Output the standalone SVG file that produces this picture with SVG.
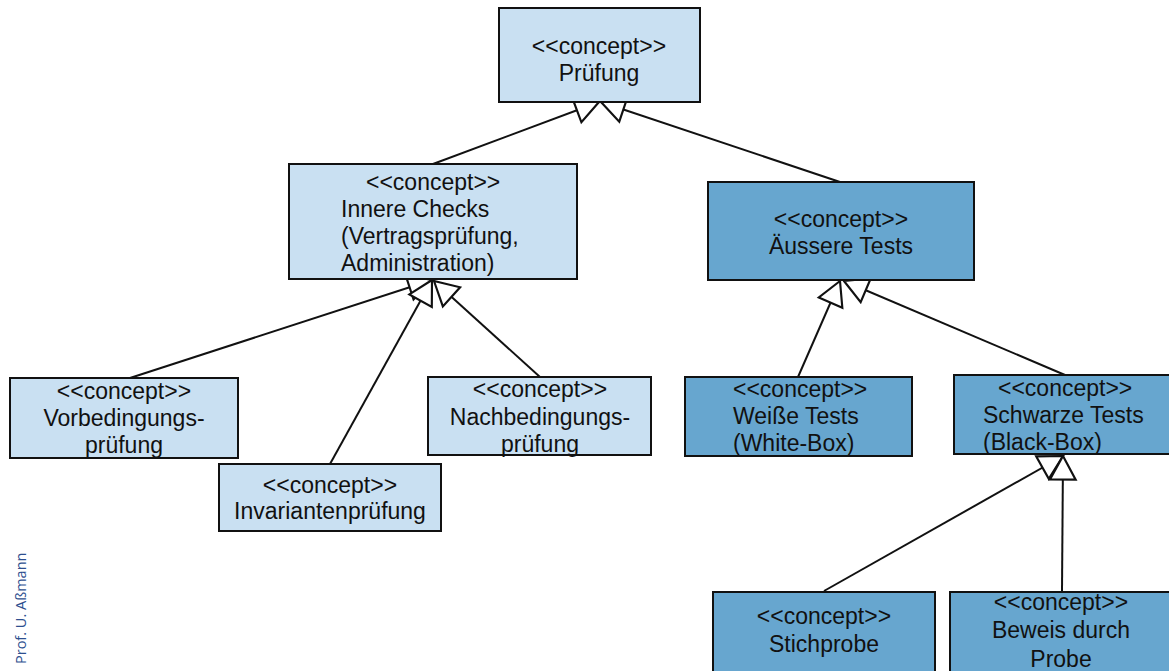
<svg xmlns="http://www.w3.org/2000/svg" width="1169" height="671" viewBox="0 0 1169 671">
<defs>
<style>
.box{stroke:#111;stroke-width:2}
.l{fill:#c9e0f2}
.d{fill:#67a6cf}
text{font-family:"Liberation Sans",Arial,sans-serif;font-size:23px;fill:#111}
.c{text-anchor:middle}
.con{stroke:#111;stroke-width:2;fill:none;marker-end:url(#gen)}
.foot{font-family:"Open Sans","Liberation Sans",sans-serif;font-size:14.5px;fill:#2e4f8f}
</style>
<marker id="gen" markerUnits="userSpaceOnUse" markerWidth="30" markerHeight="30" viewBox="-24 -14 26 28" refX="0" refY="0" orient="auto">
<path d="M0,0 L-22,-12 L-22,12 Z" fill="#fff" stroke="#111" stroke-width="2"/>
</marker>
</defs>
<rect width="1169" height="671" fill="#fff"/>
<g id="connectors">
<line class="con" x1="433" y1="164" x2="599" y2="102"/>
<line class="con" x1="840" y1="182" x2="601" y2="102"/>
<line class="con" x1="130" y1="378" x2="432" y2="280"/>
<line class="con" x1="330" y1="464" x2="432" y2="280"/>
<line class="con" x1="540" y1="377" x2="434" y2="281"/>
<line class="con" x1="798" y1="377" x2="840" y2="281"/>
<line class="con" x1="1065" y1="375" x2="844" y2="281"/>
<line class="con" x1="824" y1="591" x2="1063" y2="456"/>
<line class="con" x1="1062" y1="591" x2="1063" y2="456"/>
</g>
<g id="pruefung">
<rect class="box l" x="499" y="8" width="201" height="94"/>
<text class="c" x="599" y="54">&lt;&lt;concept&gt;&gt;</text>
<text class="c" x="599" y="81">Prüfung</text>
</g>
<g id="innere">
<rect class="box l" x="289" y="164" width="288" height="115"/>
<text x="366" y="190">&lt;&lt;concept&gt;&gt;</text>
<text x="341" y="217">Innere Checks</text>
<text x="341" y="244">(Vertragsprüfung,</text>
<text x="341" y="271">Administration)</text>
</g>
<g id="aeussere">
<rect class="box d" x="708" y="182" width="266" height="98"/>
<text class="c" x="841" y="227">&lt;&lt;concept&gt;&gt;</text>
<text class="c" x="841" y="254">Äussere Tests</text>
</g>
<g id="vorbedingung">
<rect class="box l" x="10" y="378" width="228" height="80"/>
<text class="c" x="124" y="399">&lt;&lt;concept&gt;&gt;</text>
<text class="c" x="124" y="426">Vorbedingungs-</text>
<text class="c" x="124" y="453">prüfung</text>
</g>
<g id="invarianten">
<rect class="box l" x="219" y="464" width="222" height="67"/>
<text class="c" x="330" y="493">&lt;&lt;concept&gt;&gt;</text>
<text class="c" x="330" y="519">Invariantenprüfung</text>
</g>
<g id="nachbedingung">
<rect class="box l" x="428" y="377" width="223" height="78"/>
<text class="c" x="540" y="397">&lt;&lt;concept&gt;&gt;</text>
<text class="c" x="540" y="425">Nachbedingungs-</text>
<text class="c" x="540" y="452">prüfung</text>
</g>
<g id="weisse">
<rect class="box d" x="685" y="377" width="227" height="79"/>
<text x="733" y="397">&lt;&lt;concept&gt;&gt;</text>
<text x="733" y="424">Weiße Tests</text>
<text x="733" y="451">(White-Box)</text>
</g>
<g id="schwarze">
<rect class="box d" x="954" y="375" width="220" height="79"/>
<text x="998" y="396">&lt;&lt;concept&gt;&gt;</text>
<text x="983" y="423">Schwarze Tests</text>
<text x="983" y="450">(Black-Box)</text>
</g>
<g id="stichprobe">
<rect class="box d" x="713" y="592" width="222" height="84"/>
<text class="c" x="824" y="624">&lt;&lt;concept&gt;&gt;</text>
<text class="c" x="824" y="652">Stichprobe</text>
</g>
<g id="beweis">
<rect class="box d" x="950" y="592" width="224" height="84"/>
<text class="c" x="1061" y="610">&lt;&lt;concept&gt;&gt;</text>
<text class="c" x="1061" y="638">Beweis durch</text>
<text class="c" x="1061" y="667">Probe</text>
</g>
<text class="foot" transform="translate(26,664) rotate(-90)">Prof. U. Aßmann</text>
</svg>
